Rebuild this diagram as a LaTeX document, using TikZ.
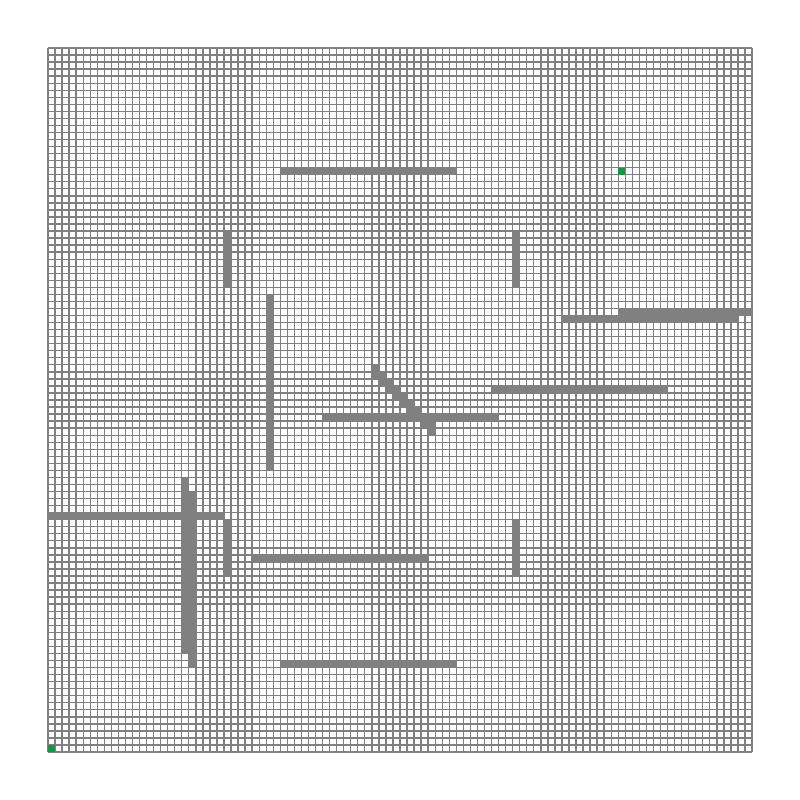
\documentclass[tikz,border=0pt]{standalone}
\usepackage{tikz}

\definecolor{wallgray}{RGB}{128,128,128}
\definecolor{cellgreen}{RGB}{24,150,70}

\begin{document}
\begin{tikzpicture}[
x=2.5mm, y=-2.5mm,
gridline/.style={draw=wallgray, line width=1.4pt},
wall/.style={fill=wallgray},
endcell/.style={fill=cellgreen}
]
\useasboundingbox (-6.818,-6.818) rectangle (106.818,106.818);
% grid of 100 x 100 cells
\foreach \i in {0,...,100} {
  \draw[gridline] (\i,0) -- (\i,100);
  \draw[gridline] (0,\i) -- (100,\i);
}
% horizontal walls: row/first col/last col
\foreach \r/\a/\b in {17/33/57, 37/81/99, 38/73/97, 48/63/87, 52/39/63, 66/0/24, 72/29/53, 87/33/57}
  \fill[wall] (\a,\r) rectangle (\b+1,\r+1);
% vertical walls: col/first row/last row
\foreach \c/\a/\b in {25/26/33, 66/26/33, 31/35/59, 19/61/85, 20/63/87, 25/67/74, 66/67/74}
  \fill[wall] (\c,\a) rectangle (\c+1,\b+1);
% diagonal wall
\foreach \k in {46,...,54}
  \fill[wall] (\k,\k) rectangle ++(1,1);
\foreach \k in {45,...,53}
  \fill[wall] (\k+1,\k) rectangle ++(1,1);
% start and goal
\fill[endcell] (0,99) rectangle ++(1,1);
\fill[endcell] (81,17) rectangle ++(1,1);
\end{tikzpicture}
\end{document}
